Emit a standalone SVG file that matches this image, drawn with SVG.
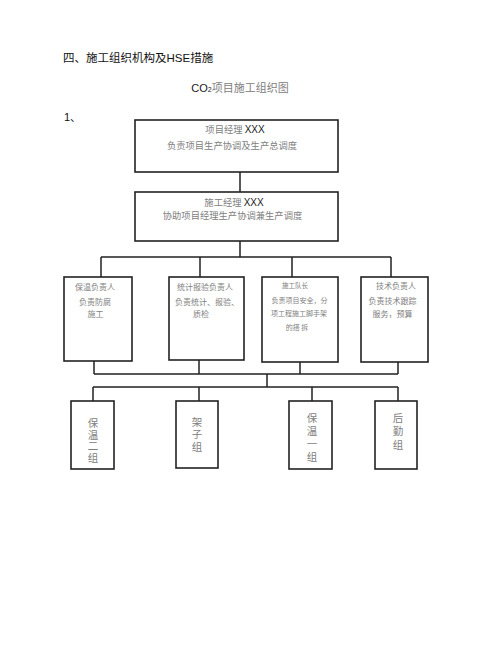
<svg xmlns="http://www.w3.org/2000/svg" width="480" height="648" viewBox="0 0 480 648">
<style>
.bx{fill:#fff;stroke:#222;stroke-width:1.6}
.ln{stroke:#222;stroke-width:1.5;fill:none}
.cj{font-family:"Noto Sans CJK SC","Noto Sans",sans-serif;fill:#808080}
.sa{font-family:"Liberation Sans",Arial,sans-serif;fill:#222}
.hd{font-family:"Liberation Sans","Noto Sans CJK SC",sans-serif;fill:#111}
.m{text-anchor:middle}
.vt{writing-mode:tb;glyph-orientation-vertical:0;text-orientation:upright;text-anchor:middle;font-size:10.5px}
</style>
<rect width="480" height="648" fill="#fff"/>
<text class="hd" x="63" y="62" font-size="11.5">四、施工组织机构及HSE措施</text>
<text x="240" y="91.5" font-size="11" class="m"><tspan class="sa">CO</tspan><tspan class="sa" font-size="7">2</tspan><tspan class="cj">项目施工组织图</tspan></text>
<text class="hd" x="64" y="121" font-size="11">1、</text>

<g id="connectors">
<path class="ln" d="M240 172V192M240 241V257M101 257H391M101 257V277M200 257V277M292 257V277M391 257V277"/>
<path class="ln" d="M94 361V374M199 360V374M300 362V374M398 362V374M94 374H398M267 374V387M93 387H398M93 387V401M199 387V401M312 387V401M398 387V401"/>
</g>

<g id="pm">
<rect class="bx" x="135" y="120" width="203" height="52"/>
<text x="235" y="133" font-size="9.3" class="m"><tspan class="cj">项目经理 </tspan><tspan class="sa" font-size="10">XXX</tspan></text>
<text class="cj m" x="232" y="148.5" font-size="9.3">负责项目生产协调及生产总调度</text>
</g>

<g id="cm">
<rect class="bx" x="135" y="192" width="203" height="49"/>
<text x="234" y="205.5" font-size="9.3" class="m"><tspan class="cj">施工经理 </tspan><tspan class="sa" font-size="10">XXX</tspan></text>
<text class="cj m" x="232.5" y="219.2" font-size="9.3">协助项目经理生产协调兼生产调度</text>
</g>

<g id="insul-lead">
<rect class="bx" x="64" y="277" width="68" height="84"/>
<text class="cj m" x="95" y="290" font-size="8">保温负责人</text>
<text class="cj m" x="95" y="305" font-size="8">负责防腐</text>
<text class="cj m" x="95.5" y="316.5" font-size="8">施工</text>
</g>

<g id="stat-lead">
<rect class="bx" x="169" y="277" width="75" height="83"/>
<text class="cj" x="177" y="290" font-size="8">统计报验负责人</text>
<text class="cj" x="175" y="305" font-size="8">负责统计、报验、</text>
<text class="cj m" x="201" y="316.5" font-size="8">质检</text>
</g>

<g id="team-lead">
<rect class="bx" x="262" y="277" width="76" height="85"/>
<text class="cj m" x="295" y="287.5" font-size="6.5">施工队长</text>
<text class="cj m" x="299.5" y="302.5" font-size="7">负责项目安全，分</text>
<text class="cj m" x="299" y="315.5" font-size="7">项工程施工脚手架</text>
<text class="cj m" x="297" y="329.5" font-size="7">的搭 拆</text>
</g>

<g id="tech-lead">
<rect class="bx" x="361" y="277" width="67" height="85"/>
<text class="cj m" x="396" y="289" font-size="8">技术负责人</text>
<text class="cj m" x="392.5" y="303.5" font-size="8">负责技术跟踪</text>
<text class="cj m" x="392.5" y="316.5" font-size="8">服务，预算</text>
</g>

<g id="insul-2">
<rect class="bx" x="71" y="401" width="43" height="68"/>
<text class="cj vt" x="93" y="441" letter-spacing="1.2">保温二组</text>
</g>

<g id="scaffold">
<rect class="bx" x="176" y="401" width="42" height="67"/>
<text class="cj vt" x="197" y="435.5" letter-spacing="2">架子组</text>
</g>

<g id="insul-1">
<rect class="bx" x="289" y="401" width="43" height="68"/>
<text class="cj vt" x="312" y="438.5" letter-spacing="2.5">保温一组</text>
</g>

<g id="logistics">
<rect class="bx" x="375" y="401" width="42" height="68"/>
<text class="cj vt" x="398" y="433" letter-spacing="3">后勤组</text>
</g>
</svg>
